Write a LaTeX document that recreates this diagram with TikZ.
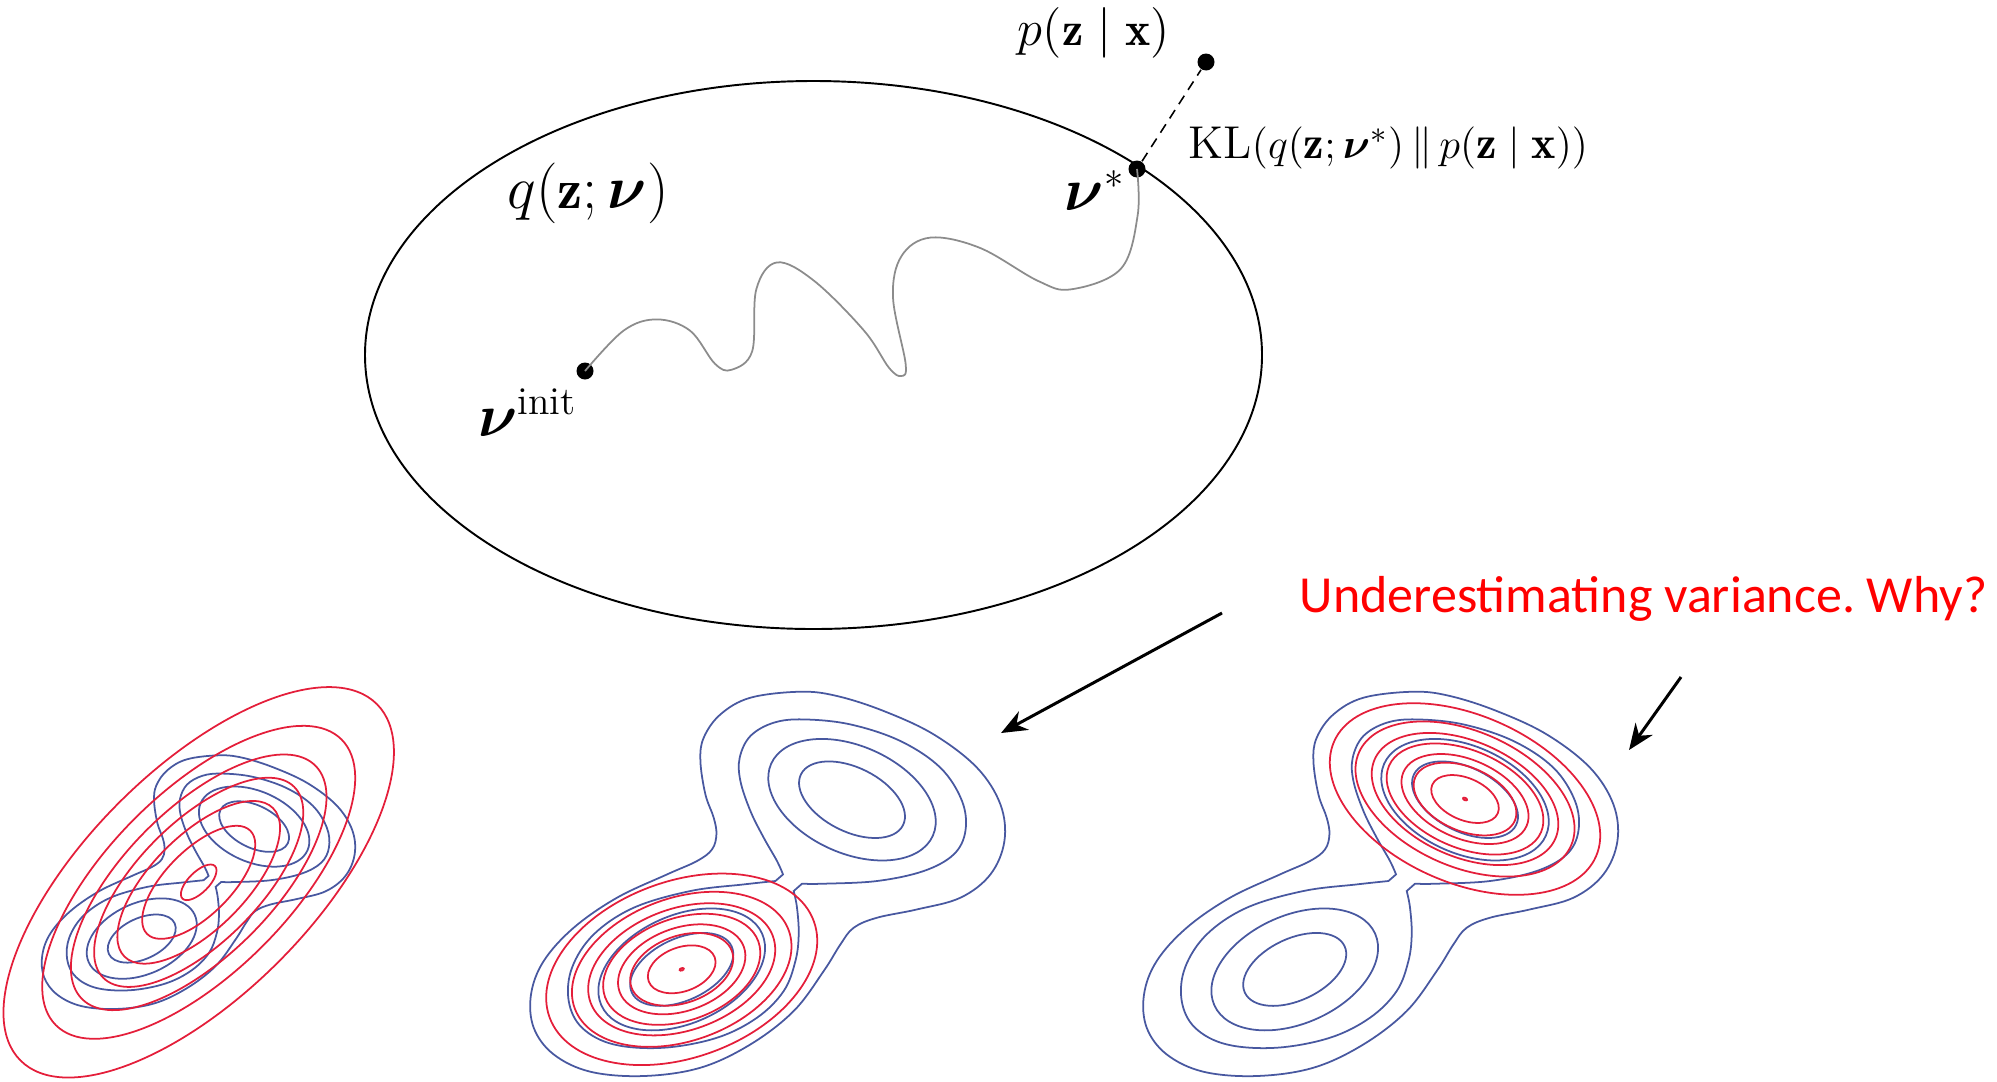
\documentclass[tikz,border=0pt]{standalone}
\usepackage{amsmath}
\usepackage{bm}
\usepackage{fontspec}
\newfontfamily\calibfont{Carlito}
\usetikzlibrary{arrows.meta}
\definecolor{contblue}{RGB}{72,88,160}
\definecolor{contred}{RGB}{228,30,58}
\definecolor{pathgray}{RGB}{140,140,140}
\definecolor{whyred}{RGB}{255,0,0}

% contours of the bimodal target, local frame centred on the saddle
\newcommand{\bimodal}{%
  \draw[bluec] plot[smooth cycle, tension=0.6] coordinates {
    (12.7,-192) (-37.3,-186) (-67.3,-169.3) (-84,-146) (-87.3,-122.7)
    (-82.3,-89.3) (-74,-66) (-71.3,-49.3) (-75.7,-34.3) (-90.7,-22.7)
    (-120.7,-9.3) (-170.7,14) (-214,44) (-244,77.3) (-256.7,110.7)
    (-254,144) (-234,170.7) (-197.3,188) (-144,192.3) (-87.3,184)
    (-37.3,160.7) (6,127.3) (36,87.3) (52.7,60.7) (66,44) (89.3,34)
    (129.3,25.7) (172.7,14) (202.7,-9.3) (216.7,-42.7) (212.7,-79.3)
    (189.3,-116) (146,-149.3) (96,-172.7) (49.3,-187.7)};
  \draw[bluec] plot[smooth, tension=0.6] coordinates {
    (-4.7,-9.3) (-10.7,-22.7) (-24,-46) (-37.3,-72.7) (-47.3,-102.7)
    (-48,-126) (-37.3,-147.7) (-14,-161) (16,-164.3) (62.7,-159.3)
    (112.7,-142.7) (152.7,-116) (174.3,-82.7) (177.7,-52.7) (166,-29.3)
    (136,-12.7) (89.3,-2.7) (36,0) (14.3,0)}
    -- plot[smooth, tension=0.6] coordinates {
    (6,7.3) (9.3,24) (11,50.7) (7.7,77.3) (-4,107.3) (-30.7,134)
    (-70.7,154) (-124,164) (-174,160.7) (-205.7,144) (-219,117.3)
    (-215.7,84) (-194,50.7) (-154,24) (-97.3,7.3) (-44,0.7) (-12.3,-2.7)}
    -- cycle;
  \draw[bluec, rotate around={-26.5:(64.3,-84)}] (64.3,-84) ellipse (57 and 32);
  \draw[bluec, rotate around={-24:(64.3,-84)}] (64.3,-84) ellipse (88.5 and 53.6);
  \draw[bluec, rotate around={25:(-106,85.7)}] (-106,85.7) ellipse (55 and 31);
  \draw[bluec, rotate around={24:(-106,85.7)}] (-106,85.7) ellipse (88 and 54);
}

\begin{document}
\begin{tikzpicture}[x=0.1mm, y=-0.1mm,
    bluec/.style={draw=contblue, line width=0.5pt},
    redc/.style={draw=contred, line width=0.5pt},
    bullet/.style={circle, fill=black, inner sep=0pt, minimum size=1.7mm},
    mlabel/.style={inner sep=0pt, font=\fontsize{16}{18}\selectfont},
    arr/.style={-{Stealth[length=2.6mm, width=2.1mm]}, line width=0.85pt}
  ]
  \useasboundingbox (0,0) rectangle (1997,1081);

  % variational family and optimisation path
  \draw[line width=0.55pt] (813.5,355) ellipse (448.5 and 274);
  \node[bullet] (vinit) at (585,371) {};
  \node[bullet] (vstar) at (1137,169) {};
  \node[bullet] (post)  at (1206,62) {};
  \draw[pathgray, line width=0.5pt] plot[smooth, tension=0.6] coordinates {
    (vinit.center) (623.6,330.6) (656.8,319.4) (690,330.6) (714.8,363.6)
    (731.4,369.8) (752.2,351.2) (756.3,289.3) (777,262.4) (814.3,281)
    (864,330.6) (889,367.8) (901.4,376) (905.6,363.6) (893,297.5)
    (901.4,256.2) (930.4,237.6) (980.2,248) (1038.2,281) (1071.4,289.3)
    (1121,268.6) (1137.7,214.9) (vstar.center)};
  \draw[dash pattern=on 1mm off 0.7mm, line width=0.45pt] (vstar) -- (post);

  \node[mlabel, font=\fontsize{13.6}{16}\selectfont] (ptxt) at (1094,33) {$p(\mathbf{z}\mid\mathbf{x})$};
  \node[mlabel, font=\fontsize{13.1}{15}\selectfont, anchor=west] (kltxt) at (1188,148)
    {$\mathrm{KL}(q(\mathbf{z};\bm{\nu}^*)\,\|\,p(\mathbf{z}\mid\mathbf{x}))$};
  \node[mlabel] (qtxt) at (588,193) {$q(\mathbf{z};\bm{\nu})$};
  \node[mlabel] (vstartxt) at (1095,191) {$\bm{\nu}^*$};
  \node[mlabel] (vinittxt) at (528,413) {$\bm{\nu}^{\mathrm{init}}$};

  % three contour panels
  \begin{scope}[shift={(211.7,882)}, scale=0.66]
    \bimodal
  \end{scope}
  \begin{scope}[shift={(198.7,882.3)}, rotate=45]
    \foreach \a in {23,73,105,135,165,202,252}
      \draw[redc] (0,0) ellipse ({\a} and {0.447*\a});
  \end{scope}

  \begin{scope}[shift={(787.7,883.7)}]
    \bimodal
  \end{scope}
  \begin{scope}[shift={(681.7,969.3)}, rotate=20]
    \foreach \f in {0.25,0.38,0.47,0.58,0.69,0.81,1}
      \draw[redc] (0,0) ellipse ({140.6*\f} and {88.1*\f});
    \draw[redc] (0,0) ellipse (2.2 and 1.2);
  \end{scope}

  \begin{scope}[shift={(1400.7,883.7)}]
    \bimodal
  \end{scope}
  \begin{scope}[shift={(1465,799)}, rotate=-23.7]
    \foreach \f in {0.25,0.38,0.47,0.58,0.69,0.81,1}
      \draw[redc] (0,0) ellipse ({143*\f} and {83.7*\f});
    \draw[redc] (0,0) ellipse (2.2 and 1.2);
  \end{scope}

  % remark and pointers
  \node[anchor=base west, inner sep=0pt, text=whyred,
    font=\calibfont\fontsize{14.8}{18}\selectfont] (why) at (1299,612)
    {Underestimating variance.\ Why?};
  \coordinate (whyA) at (1222,613);
  \coordinate (tipA) at (1001,733);
  \coordinate (whyB) at (1681,677);
  \coordinate (tipB) at (1629,750);
  \draw[arr] (whyA) -- (tipA);
  \draw[arr] (whyB) -- (tipB);
\end{tikzpicture}
\end{document}
